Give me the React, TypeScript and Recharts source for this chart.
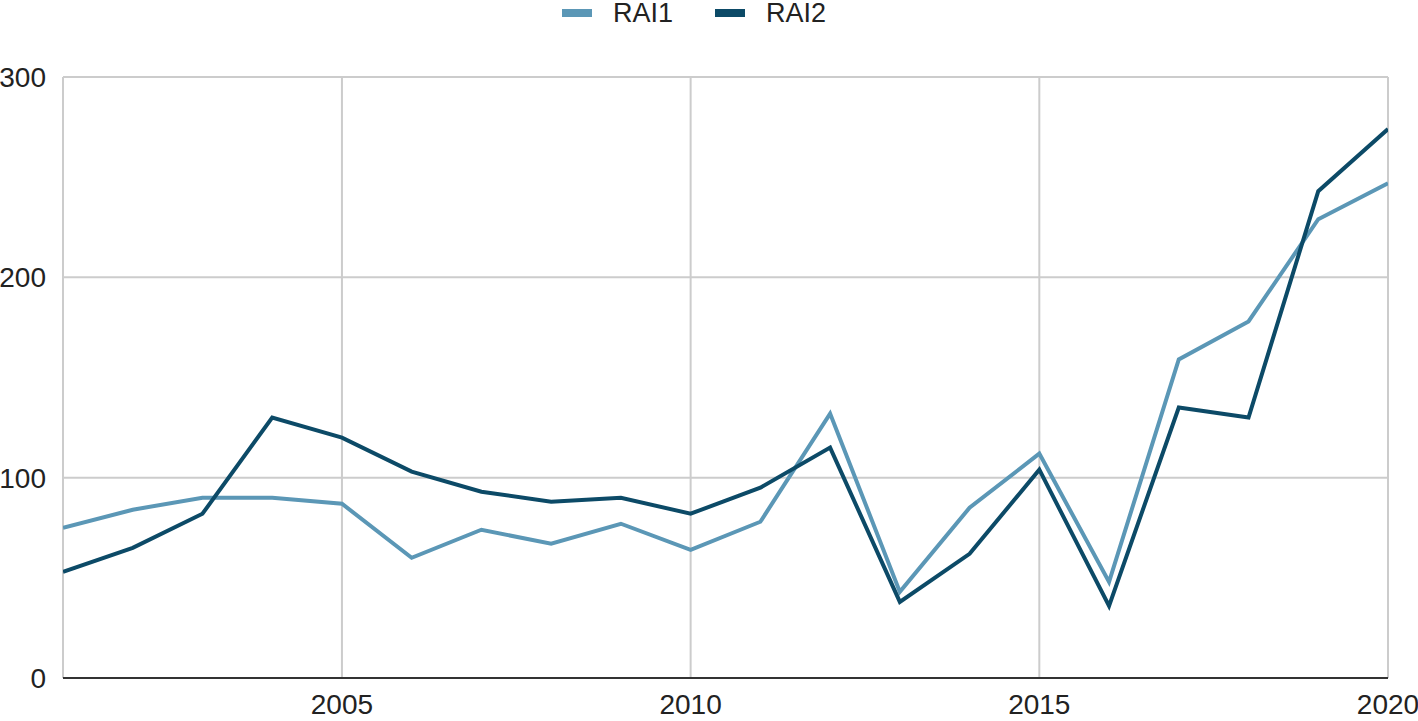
import React from 'react';
import { LineChart, Line, XAxis, YAxis, CartesianGrid, Legend } from 'recharts';

const years = [2001, 2002, 2003, 2004, 2005, 2006, 2007, 2008, 2009, 2010, 2011, 2012, 2013, 2014, 2015, 2016, 2017, 2018, 2019, 2020];
const rai1 = [75, 84, 90, 90, 87, 60, 74, 67, 77, 64, 78, 132, 43, 85, 112, 48, 159, 178, 229, 247];
const rai2 = [53, 65, 82, 130, 120, 103, 93, 88, 90, 82, 95, 115, 38, 62, 104, 36, 135, 130, 243, 274];
const xTicks = [2005, 2010, 2015, 2020];
const yTicks = [0, 100, 200, 300];

const COLOR1 = '#5b97b6';
const COLOR2 = '#0c4a67';
const FONT = 'Liberation Sans, Arial, sans-serif';

const data = years.map((y, i) => ({ year: y, RAI1: rai1[i], RAI2: rai2[i] }));

const LegendContent = (props: any) => {
  const { payload } = props;
  return (
    <div style={{ display: 'flex', alignItems: 'center', marginLeft: 562, fontFamily: FONT, fontSize: 27, color: '#222', height: 26, overflow: 'visible' }}>
      {(payload || []).map((p: any, i: number) => (
        <div key={p.value} style={{ display: 'flex', alignItems: 'center', marginRight: i === 0 ? 42 : 0 }}>
          <div style={{ width: 30, height: 8, background: p.color, marginRight: 21 }} />
          <span style={{ lineHeight: '26px' }}>{p.value}</span>
        </div>
      ))}
    </div>
  );
};

export default function App() {
  return (
    <div style={{ position: 'absolute', left: 0, top: 0, width: 1418, height: 721, background: '#fff' }}>
      <LineChart width={1418} height={721} data={data} margin={{ top: 51, right: 30, bottom: 0, left: 0 }}>
        <CartesianGrid stroke="#cccccc" strokeWidth={2} />
        <XAxis
          dataKey="year"
          type="number"
          domain={[2001, 2020]}
          ticks={xTicks}
          tickLine={false}
          tickSize={0}
          tickMargin={16}
          height={43}
          axisLine={{ stroke: '#333333', strokeWidth: 2 }}
          tick={{ fill: '#222', fontSize: 28, fontFamily: FONT }}
          allowDataOverflow
        />
        <YAxis
          domain={[0, 300]}
          ticks={yTicks}
          tickLine={false}
          axisLine={false}
          tickSize={0}
          tickMargin={17}
          width={63}
          tick={{ fill: '#222', fontSize: 28, fontFamily: FONT }}
        />
        <Legend verticalAlign="top" wrapperStyle={{ top: 0, left: 0, width: 1418 }} content={<LegendContent />} />
        <Line dataKey="RAI1" stroke={COLOR1} strokeWidth={4} dot={false} isAnimationActive={false} />
        <Line dataKey="RAI2" stroke={COLOR2} strokeWidth={4} dot={false} isAnimationActive={false} />
      </LineChart>
    </div>
  );
}
